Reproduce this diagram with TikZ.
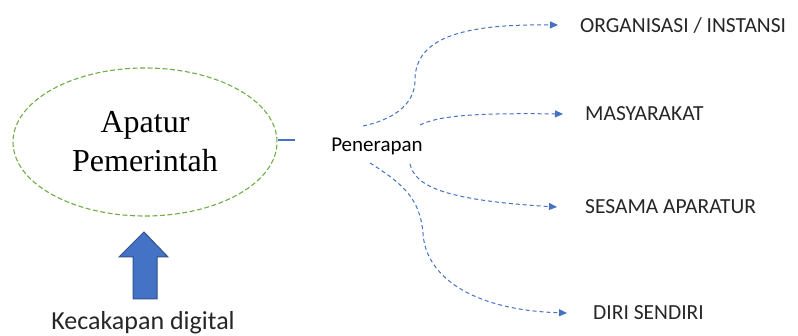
\documentclass[tikz,border=0pt]{standalone}
\usepackage{fontspec}
\setmainfont{Liberation Serif}
\newfontfamily\carl{Carlito}
\usetikzlibrary{shapes.geometric,arrows.meta}
\definecolor{wblue}{HTML}{4472C4}
\definecolor{wblued}{HTML}{2F528F}
\definecolor{wgreen}{HTML}{70AD47}
\begin{document}
\begin{tikzpicture}[x=1pt,y=-1pt,
  conn/.style={wblue, line width=1pt, dash pattern=on 4pt off 3pt,
    -{Triangle[length=8pt,width=7pt]}},
  lbl/.style={anchor=west, inner sep=0pt, font=\carl\fontsize{21.5}{23}\selectfont, text=black!85}]
\useasboundingbox (0,0) rectangle (798,336);
\node[draw=wgreen, line width=1.1pt, dash pattern=on 5pt off 2.5pt, ellipse,
  minimum width=264pt, minimum height=148pt, align=center,
  font=\fontsize{32}{39}\selectfont] (ap) at (145,142) {Apatur\\Pemerintah};
\node[font=\carl\fontsize{21}{23}\selectfont, inner sep=0pt] (pen) at (377,146) {Penerapan};
\coordinate (c0) at (295,140);
\draw[wblue, line width=1.1pt] (ap.east |- c0) -- (c0);
\node[lbl] (org) at (580,25) {ORGANISASI / INSTANSI};
\node[lbl] (mas) at (585,114) {MASYARAKAT};
\node[lbl] (ses) at (585,207) {SESAMA APARATUR};
\node[lbl] (diri) at (593,313) {DIRI SENDIRI};
\coordinate (s1) at (363,126);
\coordinate (s2) at (420,125);
\coordinate (s3) at (410,164);
\coordinate (s4) at (370,163);
\draw[conn] (s1) .. controls (400,118) and (415,100) .. (415,80)
  .. controls (415,35) and (470,24) .. ([xshift=-22pt]org.west);
\draw[conn] (s2) .. controls (440,115) and (480,113) .. ([xshift=-22pt]mas.west);
\draw[conn] (s3) .. controls (415,185) and (440,200) .. ([xshift=-28pt]ses.west);
\draw[conn] (s4) .. controls (405,185) and (420,200) .. (423,233)
  .. controls (425,275) and (470,310) .. ([xshift=-26pt]diri.west);
\draw[fill=wblue, draw=wblued, line width=1pt]
  (133,299) -- (133,257) -- (119,257) -- (144,232) -- (168,257) -- (157,257) -- (157,299) -- cycle;
\node[font=\carl\fontsize{26}{28}\selectfont, inner sep=0pt, text=black!85] (kec) at (143,323) {Kecakapan digital};
\end{tikzpicture}
\end{document}
